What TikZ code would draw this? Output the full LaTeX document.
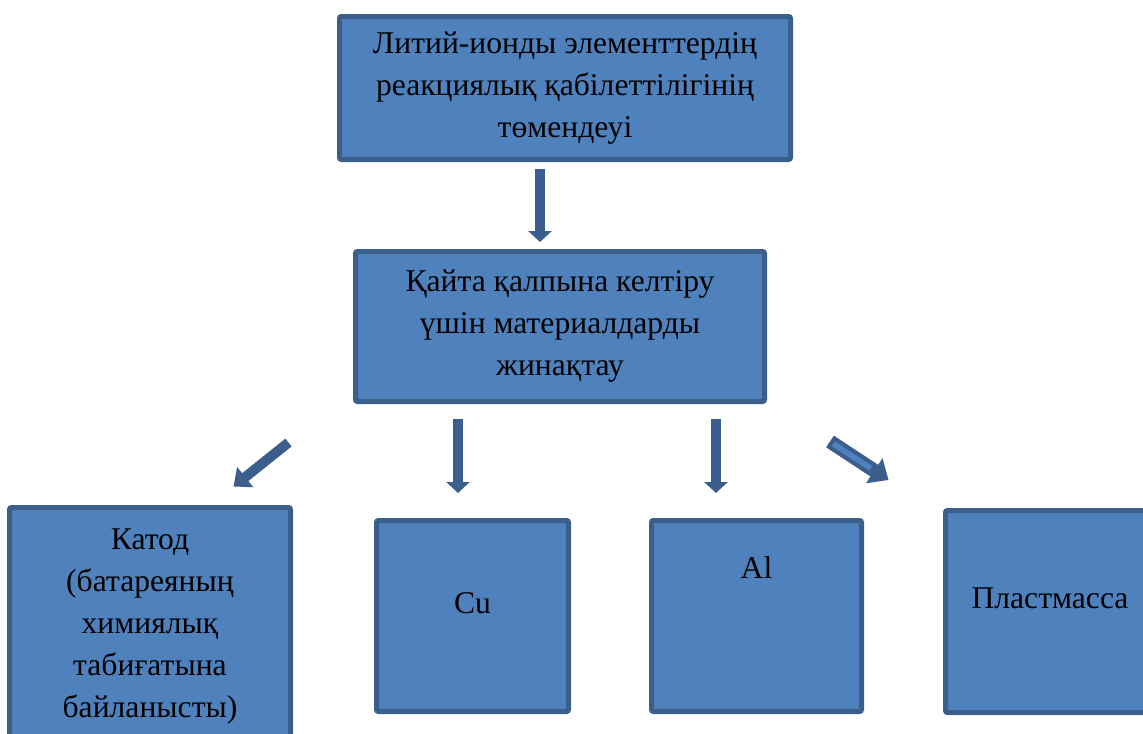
\documentclass[tikz,border=0pt]{standalone}
\usepackage{fontspec}
\setmainfont{Liberation Serif}
\usepackage{tikz}
\usetikzlibrary{arrows.meta}

\definecolor{boxfill}{HTML}{4F81BD}
\definecolor{boxline}{HTML}{3A5F8B}
\definecolor{arrowcol}{HTML}{3B5E8C}

\begin{document}
\begin{tikzpicture}[
	box/.style={draw=boxline, fill=boxfill, line width=0.1cm, rounded corners=0.04cm, align=center, inner sep=0pt},
	txt/.style={font=\fontsize{18}{23.9}\selectfont, align=center},
	downarrow/.style={draw=arrowcol, line width=0.2cm, -{Triangle[width=0.46cm, length=0.22cm]}}
]
	% Page size
	\useasboundingbox (0,0) rectangle (22.86,-14.66);

	% Boxes
	%Top
	\node[box, txt, minimum width=9.02cm, minimum height=2.86cm] (top) at (11.30,-1.76)
		{Литий-ионды элементтердің\\реакциялық қабілеттілігінің\\төмендеуі};
	%Middle
	\node[box, txt, minimum width=8.18cm, minimum height=3.00cm] (collect) at (11.20,-6.53)
		{Қайта қалпына келтіру\\үшін материалдарды\\жинақтау};
	%Bottom row
	\node[box, txt, minimum width=5.62cm, minimum height=4.78cm] (cathode) at (3.00,-12.54)
		{Катод\\(батареяның\\химиялық\\табиғатына\\байланысты)};
	\node[box, minimum width=3.84cm, minimum height=3.82cm] (cu) at (9.45,-12.32) {};
	\node[txt] (cutext) at ([yshift=0.26cm]cu.center) {Cu};
	\node[box, minimum width=4.20cm, minimum height=3.82cm] (al) at (15.13,-12.32) {};
	\node[txt] (altext) at ([yshift=0.96cm]al.center) {Al};
	\node[box, minimum width=4.18cm, minimum height=4.04cm] (plastic) at (21.00,-12.23) {};
	\node[txt] (plastictext) at ([yshift=0.26cm]plastic.center) {Пластмасса};

	% Arrow ends
	\coordinate (a1s) at (10.80,-3.38);
	\coordinate (a1e) at (10.80,-4.84);
	\coordinate (a2s) at (9.16,-8.38);
	\coordinate (a2e) at (9.16,-9.86);
	\coordinate (a3s) at (14.32,-8.38);
	\coordinate (a3e) at (14.32,-9.86);
	\coordinate (a4s) at (5.77,-8.85);
	\coordinate (a4e) at (4.67,-9.73);
	\coordinate (a5s) at (16.60,-8.83);
	\coordinate (a5e) at (17.77,-9.60);

	% Arrows
	\draw[downarrow] (a1s) -- (a1e);
	\draw[downarrow] (a2s) -- (a2e);
	\draw[downarrow] (a3s) -- (a3e);
	\draw[downarrow, -{Triangle[width=0.5cm, length=0.3cm]}] (a4s) -- (a4e);
	\draw[downarrow, line width=0.28cm, -{Triangle[width=0.58cm, length=0.34cm]}] (a5s) -- (a5e);
	\draw[boxfill, line width=0.11cm, shorten <=0.08cm, shorten >=0.42cm] (a5s) -- (a5e);

\end{tikzpicture}
\end{document}
